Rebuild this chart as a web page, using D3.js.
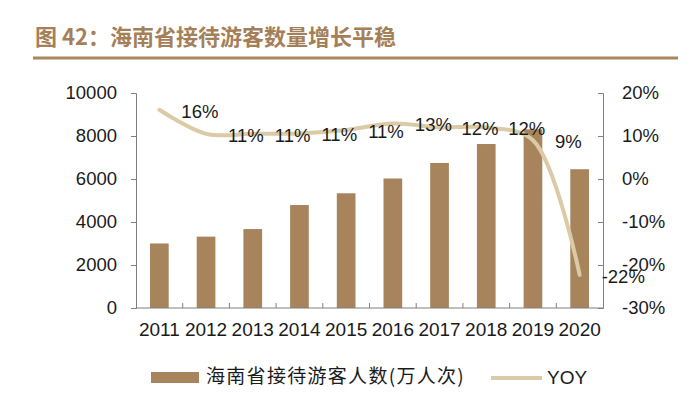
<!DOCTYPE html>
<html>
<head>
<meta charset="utf-8">
<script src="https://cdn.jsdelivr.net/npm/d3@7"></script>
<style>
  body { margin: 0; background: #fff; }
  text { font-family: "Liberation Sans", Arial, sans-serif; }
</style>
</head>
<body>
<div id="chart"></div>
<script>
// chart data
var years = ["2011", "2012", "2013", "2014", "2015", "2016", "2017", "2018", "2019", "2020"];
var visitors = [3001, 3320, 3672, 4789, 5336, 6023, 6745, 7627, 8311, 6455];
var yoy = [16.1, 10.5, 10.5, 10.6, 11.4, 12.9, 12.0, 12.0, 9.0, -22.3];
var leftTicks = [0, 2000, 4000, 6000, 8000, 10000];
var rightTicks = [-30, -20, -10, 0, 10, 20];

var titleText = "图 42：海南省接待游客数量增长平稳";
var barName = "海南省接待游客人数(万人次)";
var lineName = "YOY";

// svg size and plot box
var svgWidth = 698;
var svgHeight = 398;
var plot = { left: 136, right: 603, top: 93, bottom: 308 };

var barColor = "#A8845C";
var lineColor = "#DACBA6";
var axisColor = "#7f7f7f";
var textColor = "#1a1a1a";
var fontSize = "18.5px";

var svg = d3.select("#chart").append("svg")
    .attr("width", svgWidth)
    .attr("height", svgHeight);

// title and rule
svg.append("text")
    .attr("x", 35)
    .attr("y", 39)
    .attr("dominant-baseline", "middle")
    .style("font-family", "'Noto Sans CJK SC', sans-serif")
    .style("font-weight", "bold")
    .style("font-size", "22px")
    .attr("fill", "#A57F58")
    .text(titleText);

svg.append("line")
    .attr("x1", 33).attr("x2", 678)
    .attr("y1", 58).attr("y2", 58)
    .attr("stroke", "#A8865F")
    .attr("stroke-width", 3);

// scales
var xScale = d3.scaleBand()
    .domain(years)
    .range([plot.left, plot.right])
    .paddingInner(0.6)
    .paddingOuter(0.3);

var yLeft = d3.scaleLinear()
    .domain([0, 10000])
    .range([plot.bottom, plot.top]);

var yRight = d3.scaleLinear()
    .domain([-30, 20])
    .range([plot.bottom, plot.top]);

function center(d) {
    return xScale(d) + xScale.bandwidth() / 2;
}

// bars
svg.append("g").selectAll("rect")
    .data(years)
    .enter()
    .append("rect")
    .attr("x", d => xScale(d))
    .attr("width", xScale.bandwidth())
    .attr("y", (d, i) => yLeft(visitors[i]))
    .attr("height", (d, i) => yLeft(0) - yLeft(visitors[i]))
    .attr("fill", barColor);

// left axis
var leftAxis = d3.axisLeft(yLeft)
    .tickValues(leftTicks)
    .tickSize(5)
    .tickPadding(14)
    .tickFormat(d3.format("d"));

var leftG = svg.append("g")
    .attr("transform", `translate(${plot.left}, 0)`)
    .call(leftAxis);

// right axis, ticks point inward
var rightAxis = d3.axisRight(yRight)
    .tickValues(rightTicks)
    .tickSize(-5)
    .tickPadding(19)
    .tickFormat(d => d + "%");

var rightG = svg.append("g")
    .attr("transform", `translate(${plot.right}, 0)`)
    .call(rightAxis);

// bottom axis with ticks between categories
var bottomG = svg.append("g")
    .attr("transform", `translate(0, ${plot.bottom})`);

bottomG.append("line")
    .attr("x1", plot.left).attr("x2", plot.right)
    .attr("y1", 0).attr("y2", 0)
    .attr("stroke", axisColor);

bottomG.selectAll(".sep")
    .data(years.slice(1))
    .enter()
    .append("line")
    .attr("class", "sep")
    .attr("x1", d => xScale(d) - xScale.step() * xScale.paddingInner() / 2)
    .attr("x2", d => xScale(d) - xScale.step() * xScale.paddingInner() / 2)
    .attr("y1", 0).attr("y2", -5)
    .attr("stroke", axisColor);

bottomG.selectAll(".lab")
    .data(years)
    .enter()
    .append("text")
    .attr("class", "lab")
    .attr("x", d => center(d))
    .attr("y", 23)
    .attr("text-anchor", "middle")
    .attr("dominant-baseline", "middle")
    .style("font-size", "19px")
    .attr("fill", textColor)
    .text(d => d);

// axis styling
[leftG, rightG].forEach(function (g) {
    g.selectAll("path, line").attr("stroke", axisColor);
    g.selectAll("text")
        .style("font-size", fontSize)
        .style("font-family", "'Liberation Sans', Arial, sans-serif")
        .attr("fill", textColor);
});

// yoy line
var line = d3.line()
    .x((d, i) => center(years[i]))
    .y(d => yRight(d))
    .curve(d3.curveCatmullRom.alpha(0.5));

svg.append("path")
    .datum(yoy)
    .attr("d", line)
    .attr("fill", "none")
    .attr("stroke", lineColor)
    .attr("stroke-width", 4)
    .attr("stroke-linecap", "round");

// yoy labels to the right of each point
svg.append("g").selectAll("text")
    .data(yoy)
    .enter()
    .append("text")
    .attr("x", (d, i) => center(years[i]) + 22)
    .attr("y", d => yRight(d) + 3)
    .attr("dominant-baseline", "middle")
    .style("font-size", fontSize)
    .attr("fill", textColor)
    .text(d => Math.round(d) + "%");

// legend
var legend = svg.append("g");

legend.append("rect")
    .attr("x", 151).attr("y", 372)
    .attr("width", 48).attr("height", 11)
    .attr("fill", barColor);

legend.append("text")
    .attr("x", 206).attr("y", 378)
    .attr("dominant-baseline", "middle")
    .style("font-family", "'Noto Sans CJK SC', sans-serif")
    .style("font-size", "19px")
    .style("letter-spacing", "1.3px")
    .attr("fill", textColor)
    .text(barName);

legend.append("line")
    .attr("x1", 491).attr("x2", 542)
    .attr("y1", 378).attr("y2", 378)
    .attr("stroke", lineColor)
    .attr("stroke-width", 4);

legend.append("text")
    .attr("x", 547).attr("y", 379)
    .attr("dominant-baseline", "middle")
    .style("font-size", "19px")
    .attr("fill", textColor)
    .text(lineName);
</script>
</body>
</html>
